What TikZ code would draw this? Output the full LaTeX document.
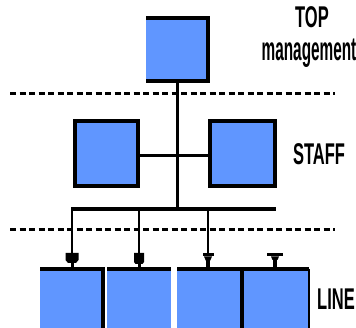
\documentclass[tikz,border=0pt]{standalone}
\usepackage{fontspec}
\setmainfont{Liberation Sans}
\definecolor{boxblue}{HTML}{6096FF}
\begin{document}
\begin{tikzpicture}[x=1pt,y=-1pt,
  unit/.style={fill=boxblue,draw=none,inner sep=0pt,outer sep=0pt},
  edge/.style={line width=3.5pt},
  link/.style={line width=3pt},
  drop/.style={line width=2pt},
  divider/.style={line width=3pt,dash pattern=on 6pt off 3.5pt},
  lbl/.style={font=\fontsize{30}{30}\selectfont\bfseries,inner sep=0pt,xscale=0.55,anchor=base}]
\useasboundingbox (0,0) rectangle (356,328);

% organisational units
\node[unit,minimum width=62pt,minimum height=63pt] (top) at (177,49.5) {};
\node[unit,minimum width=63pt,minimum height=65pt] (staffL) at (106.5,153.5) {};
\node[unit,minimum width=65pt,minimum height=65pt] (staffR) at (242.5,153.5) {};
\node[unit,minimum width=63pt,minimum height=62pt] (line1) at (71.5,300) {};
\node[unit,minimum width=64pt,minimum height=62pt] (line2) at (139,300) {};
\node[unit,minimum width=65pt,minimum height=62pt] (line3) at (209.5,300) {};
\node[unit,minimum width=67pt,minimum height=62pt] (line4) at (275.5,300) {};

% borders of the units
\draw[edge] (top.north west) -- (top.north east) -- (top.south east) -- (top.south west);
\draw[edge] (staffL.north west) rectangle (staffL.south east);
\draw[edge] (staffR.north west) rectangle (staffR.south east);
\draw[edge] (line1.south east) -- (line1.north east) -- (line1.north west);
\draw[edge] (line2.north west) -- (line2.north east);
\draw[edge] (line3.north west) -- (line3.north east);
\draw[edge] (line4.north west) -- (line4.north east);
\draw[line width=2pt] (line4.north east) -- (line4.south east);
\draw[line width=4pt] (line3.north east) -- (line3.south east);

% level dividers
\coordinate (d1a) at (10,94);  \coordinate (d1b) at (335,94);
\coordinate (d2a) at (10,230); \coordinate (d2b) at (335,230);
\draw[divider] (d1a) -- (d1b);
\draw[divider] (d2a) -- (d2b);

% bus and trunk
\coordinate (busL) at (71,209);
\coordinate (busR) at (276,209);
\coordinate (busM) at (177,209);
\draw[line width=4pt] (busL) -- (busR);
\draw[link] (top.south) -- (busM);
\draw[link] (staffL.east |- 0,156) -- (staffR.west |- 0,156);

% drops to the line units
\coordinate (m1) at (72,253);
\coordinate (m2) at (139,253);
\coordinate (m3) at (208,253);
\coordinate (m4) at (275,253);
\draw[drop] (m1 |- busL) -- (m1);
\draw[drop] (m2 |- busL) -- (m2);
\draw[drop] (m3 |- busL) -- (m3);

% block markers
\fill ([xshift=-6.5pt]m1) -- ([xshift=6.5pt]m1) -- ([xshift=6.5pt,yshift=-7pt]m1)
      -- ([xshift=4pt,yshift=-10pt]m1) -- ([xshift=-4pt,yshift=-10pt]m1)
      -- ([xshift=-6.5pt,yshift=-7pt]m1) -- cycle;
\fill ([xshift=-5pt]m2) -- ([xshift=5pt]m2) -- ([xshift=5pt,yshift=-9pt]m2)
      -- ([xshift=3.5pt,yshift=-11pt]m2) -- ([xshift=-3.5pt,yshift=-11pt]m2)
      -- ([xshift=-5pt,yshift=-9pt]m2) -- cycle;
\draw[link] ([yshift=-9pt]m1) -- ([yshift=-16pt]m1);
\draw[link] ([yshift=-10pt]m2) -- ([yshift=-16pt]m2);
% T-shaped markers
\fill ([xshift=-5.5pt]m3) rectangle ([xshift=5.5pt,yshift=-3.5pt]m3);
\fill ([xshift=-4pt,yshift=-3.5pt]m3) -- ([xshift=4pt,yshift=-3.5pt]m3)
      -- ([xshift=2pt,yshift=-8pt]m3) -- ([xshift=-2pt,yshift=-8pt]m3) -- cycle;
\draw[line width=4pt] ([yshift=-7pt]m3) -- ([yshift=-16pt]m3);
\fill ([xshift=-8pt]m4) rectangle ([xshift=8pt,yshift=-3.5pt]m4);
\fill ([xshift=-4pt,yshift=-3.5pt]m4) -- ([xshift=4pt,yshift=-3.5pt]m4)
      -- ([xshift=2.5pt,yshift=-7pt]m4) -- ([xshift=-2.5pt,yshift=-7pt]m4) -- cycle;
\draw[line width=4.5pt] ([yshift=-6pt]m4) -- ([yshift=-16pt]m4);

% level labels
\node[lbl] (ltop) at (312,28) {TOP};
\node[lbl,xscale=0.93,yscale=1.1] (lman) at (309,61) {management};
\node[lbl] (lstaff) at (319,165) {STAFF};
\node[lbl] (lline) at (336,310) {LINE};
\end{tikzpicture}
\end{document}
